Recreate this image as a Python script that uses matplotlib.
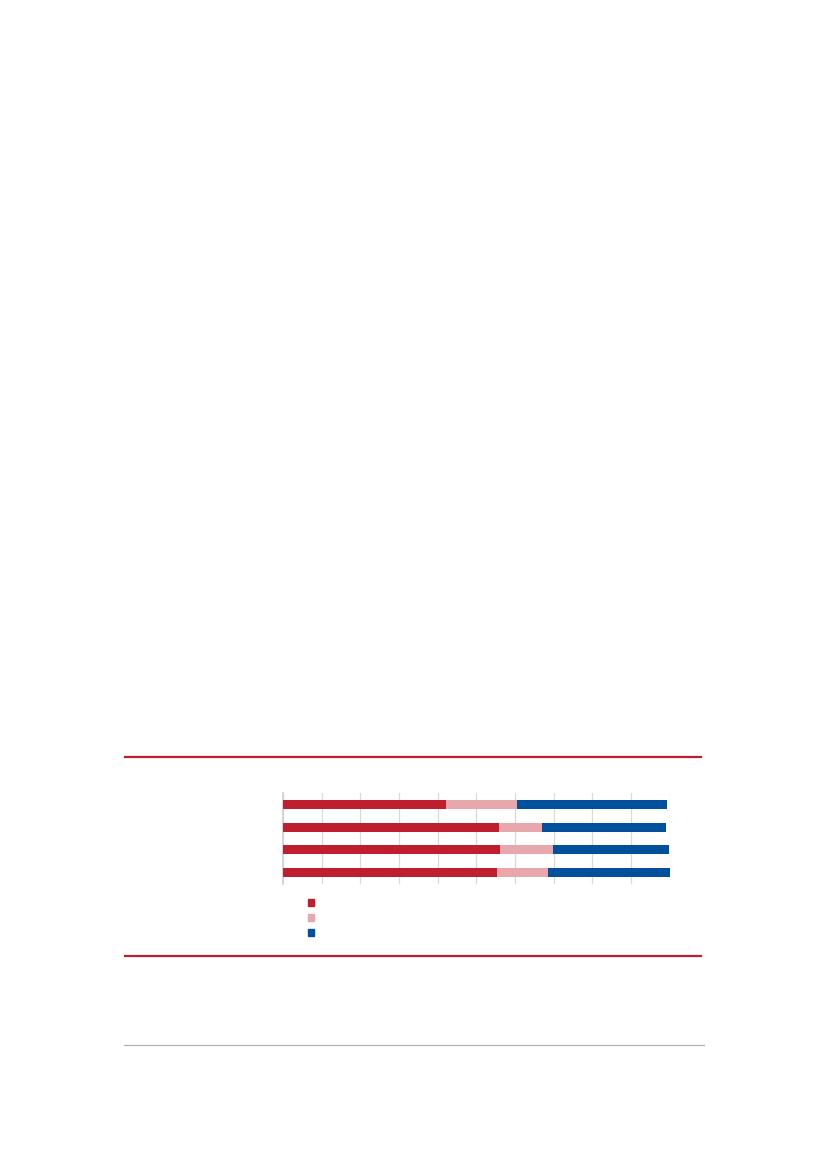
import matplotlib.pyplot as plt
from matplotlib.patches import Patch
from matplotlib.lines import Line2D

# series values in percent (top row first)
categories = ["A", "B", "C", "D"]
series_red = [42.2, 55.9, 56.1, 55.4]
series_pink = [18.3, 11.2, 13.8, 13.1]
series_blue = [38.9, 32.0, 30.0, 31.9]
x_ticks = list(range(0, 101, 10))

red = "#be1e2d"
pink = "#e8a7ac"
blue = "#00519c"

fig = plt.figure(figsize=(8.27, 11.69), dpi=100)

# rules above and below the chart, and the thin one further down
fig.add_artist(Line2D([125 / 827, 701 / 827], [1 - 757 / 1169] * 2, color=red, lw=1.6))
fig.add_artist(Line2D([125 / 827, 701 / 827], [1 - 955.5 / 1169] * 2, color=red, lw=1.6))
fig.add_artist(Line2D([124 / 827, 704 / 827], [1 - 1045 / 1169] * 2, color="#b3b3b3", lw=0.9))

ax = fig.add_axes([283 / 827, 1 - 884 / 1169, 386.5 / 827, 91 / 1169])

pos = list(range(len(categories)))
h = 0.4
ax.barh(pos, series_red, height=h, color=red, zorder=3)
ax.barh(pos, series_pink, left=series_red, height=h, color=pink, zorder=3)
left_blue = [a + b for a, b in zip(series_red, series_pink)]
ax.barh(pos, series_blue, left=left_blue, height=h, color=blue, zorder=3)

ax.set_xlim(0, 100)
ax.set_ylim(len(categories) - 0.5, -0.5)
ax.set_xticks(x_ticks)
ax.set_yticks([])
ax.xaxis.grid(True, color="#d9d9d9", lw=0.9, zorder=0)
ax.tick_params(axis="x", length=0, labelbottom=False)
for s in ["top", "right", "bottom"]:
    ax.spines[s].set_visible(False)
ax.spines["left"].set_color("#d0d0d0")
ax.spines["left"].set_linewidth(1.2)

handles = [Patch(color=red), Patch(color=pink), Patch(color=blue)]
fig.legend(handles, [" ", " ", " "], loc="upper left",
           bbox_to_anchor=(308 / 827, 1 - 898.5 / 1169), frameon=False,
           fontsize=8, handlelength=0.55, handleheight=0.55,
           labelspacing=0.45, borderpad=0, borderaxespad=0, handletextpad=0.4)

fig.savefig("out.png", dpi=100)
